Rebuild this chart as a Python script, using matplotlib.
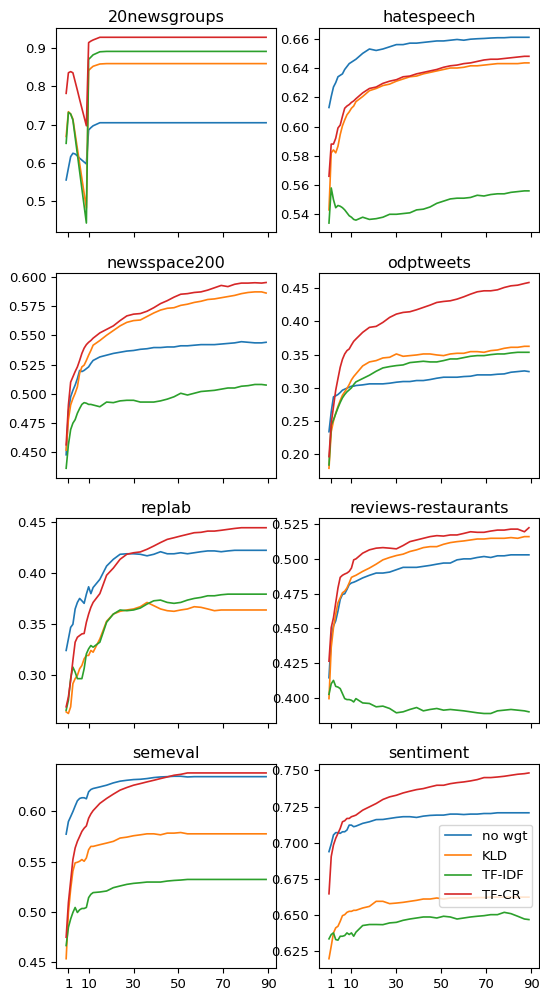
import matplotlib
matplotlib.use('Agg')
import matplotlib.pyplot as plt
from matplotlib.ticker import MultipleLocator

# x positions of the sampled points (dense at the start, then every 3 steps)
x = list(range(13)) + list(range(15, 88, 3)) + [89]

methods = ['no wgt', 'KLD', 'TF-IDF', 'TF-CR']
colors = ['#1f77b4', '#ff7f0e', '#2ca02c', '#d62728']
xtick_vals = [1, 10, 30, 50, 70, 90]

# 20newsgroups
ng_nowgt = [0.555, 0.586, 0.616, 0.625, 0.623, 0.618, 0.612, 0.607, 0.602, 0.597, 0.686, 0.692, 0.697] + [0.705] * 26
ng_kld = [0.669, 0.734, 0.728, 0.715, 0.676, 0.637, 0.598, 0.559, 0.520, 0.481, 0.842, 0.848, 0.853, 0.859] + [0.860] * 25
ng_tfidf = [0.651, 0.732, 0.728, 0.712, 0.667, 0.622, 0.577, 0.532, 0.487, 0.442, 0.871, 0.877, 0.883, 0.891] + [0.892] * 25
ng_tfcr = [0.782, 0.836, 0.839, 0.836, 0.813, 0.790, 0.766, 0.743, 0.720, 0.697, 0.915, 0.919, 0.922] + [0.929] * 26

# hatespeech
hs_nowgt = [0.613, 0.6205, 0.627, 0.630, 0.634, 0.635, 0.636, 0.639, 0.641, 0.643, 0.644, 0.645, 0.646,
            0.650, 0.653, 0.652, 0.653, 0.6545, 0.656, 0.656, 0.657, 0.657, 0.6575, 0.658, 0.6585, 0.6585,
            0.659, 0.6595, 0.659, 0.6597, 0.660, 0.6602, 0.6605, 0.6607, 0.6607, 0.661, 0.661, 0.661, 0.661]
hs_kld = [0.543, 0.582, 0.584, 0.582, 0.5865, 0.5945, 0.6005, 0.6045, 0.608, 0.610, 0.6125, 0.614, 0.617,
          0.6205, 0.6245, 0.626, 0.628, 0.629, 0.631, 0.6325, 0.634, 0.6345, 0.636, 0.637, 0.638, 0.639,
          0.640, 0.640, 0.6405, 0.6415, 0.6415, 0.642, 0.6425, 0.643, 0.643, 0.643, 0.643, 0.6435, 0.6435]
hs_tfidf = [0.534, 0.558, 0.550, 0.5445, 0.546, 0.5455, 0.5445, 0.543, 0.541, 0.539, 0.538, 0.5365, 0.536,
            0.538, 0.5365, 0.537, 0.538, 0.540, 0.540, 0.5405, 0.541, 0.543, 0.5435, 0.545, 0.5475, 0.549,
            0.5505, 0.551, 0.551, 0.5515, 0.553, 0.5525, 0.5535, 0.554, 0.554, 0.555, 0.5555, 0.556, 0.556]
hs_tfcr = [0.566, 0.588, 0.588, 0.592, 0.599, 0.601, 0.607, 0.6125, 0.614, 0.615, 0.6165, 0.6175, 0.619,
           0.623, 0.626, 0.627, 0.6295, 0.631, 0.632, 0.634, 0.6345, 0.636, 0.637, 0.638, 0.639, 0.6405,
           0.6415, 0.642, 0.643, 0.6435, 0.6445, 0.6455, 0.646, 0.646, 0.6465, 0.647, 0.6475, 0.648, 0.648]

# newsspace200
ns_nowgt = [0.448, 0.485, 0.4975, 0.503, 0.5075, 0.513, 0.520, 0.519, 0.520, 0.5215, 0.523, 0.526, 0.5285,
            0.5315, 0.533, 0.5345, 0.5355, 0.5365, 0.537, 0.538, 0.5385, 0.5395, 0.5395, 0.540, 0.540, 0.541,
            0.541, 0.5415, 0.542, 0.542, 0.542, 0.5425, 0.543, 0.5435, 0.5445, 0.544, 0.5435, 0.5435, 0.544]
ns_kld = [0.452, 0.478, 0.4905, 0.496, 0.5005, 0.506, 0.5175, 0.523, 0.5245, 0.5285, 0.533, 0.537, 0.5415,
          0.5455, 0.550, 0.554, 0.558, 0.561, 0.5625, 0.563, 0.566, 0.569, 0.5715, 0.573, 0.5735, 0.5755,
          0.5765, 0.578, 0.579, 0.5805, 0.581, 0.582, 0.583, 0.584, 0.5855, 0.5865, 0.587, 0.587, 0.586]
ns_tfidf = [0.4365, 0.4565, 0.4695, 0.475, 0.478, 0.4835, 0.4875, 0.491, 0.4925, 0.492, 0.491, 0.491, 0.4905,
            0.489, 0.493, 0.4925, 0.494, 0.4945, 0.4945, 0.493, 0.493, 0.493, 0.494, 0.4955, 0.4975, 0.5005,
            0.499, 0.5005, 0.502, 0.5025, 0.503, 0.504, 0.505, 0.505, 0.5065, 0.507, 0.508, 0.508, 0.5075]
ns_tfcr = [0.4565, 0.4905, 0.510, 0.5145, 0.519, 0.523, 0.5285, 0.5345, 0.539, 0.542, 0.544, 0.5455, 0.5475,
           0.552, 0.555, 0.558, 0.5625, 0.5665, 0.568, 0.5685, 0.5705, 0.5735, 0.577, 0.5795, 0.5825, 0.585,
           0.5855, 0.5865, 0.587, 0.5885, 0.5905, 0.5925, 0.5915, 0.5935, 0.5945, 0.5945, 0.5948, 0.5945, 0.595]

# odptweets
od_nowgt = [0.234, 0.264, 0.2865, 0.288, 0.290, 0.293, 0.2965, 0.298, 0.2995, 0.301, 0.3025, 0.3025, 0.3035,
            0.3045, 0.306, 0.306, 0.306, 0.307, 0.3085, 0.3095, 0.3095, 0.311, 0.311, 0.3125, 0.3145, 0.316,
            0.316, 0.316, 0.317, 0.3175, 0.3195, 0.3195, 0.3195, 0.3205, 0.321, 0.3235, 0.3245, 0.3255, 0.3245]
od_kld = [0.179, 0.234, 0.250, 0.262, 0.272, 0.281, 0.289, 0.294, 0.299, 0.305, 0.312, 0.317, 0.321,
          0.333, 0.339, 0.341, 0.345, 0.346, 0.351, 0.3475, 0.3485, 0.3495, 0.351, 0.351, 0.3495, 0.3485,
          0.351, 0.352, 0.352, 0.3545, 0.3545, 0.3535, 0.356, 0.357, 0.3595, 0.361, 0.361, 0.3625, 0.3625]
od_tfidf = [0.184, 0.244, 0.252, 0.261, 0.270, 0.278, 0.285, 0.290, 0.294, 0.297, 0.300, 0.305, 0.309,
            0.314, 0.319, 0.325, 0.330, 0.332, 0.3335, 0.3345, 0.338, 0.339, 0.340, 0.339, 0.339, 0.341,
            0.3435, 0.3435, 0.3455, 0.3475, 0.3485, 0.3485, 0.350, 0.351, 0.351, 0.3525, 0.3535, 0.3535, 0.3535]
od_tfcr = [0.1965, 0.2465, 0.2715, 0.2965, 0.314, 0.331, 0.343, 0.351, 0.356, 0.3585, 0.3645, 0.370, 0.3735,
           0.3835, 0.391, 0.3925, 0.3985, 0.406, 0.411, 0.4135, 0.4145, 0.4175, 0.421, 0.4245, 0.4285, 0.430,
           0.431, 0.4335, 0.437, 0.441, 0.4445, 0.446, 0.446, 0.4475, 0.451, 0.4535, 0.4545, 0.457, 0.4585]

# replab
rp_nowgt = [0.3244, 0.3357, 0.347, 0.350, 0.365, 0.3714, 0.3753, 0.373, 0.3705, 0.3795, 0.3867, 0.380, 0.386,
            0.394, 0.407, 0.4136, 0.4185, 0.419, 0.419, 0.4185, 0.417, 0.4185, 0.421, 0.419, 0.419, 0.420,
            0.419, 0.420, 0.421, 0.4218, 0.4218, 0.421, 0.4218, 0.4224, 0.4224, 0.4224, 0.4224, 0.4224, 0.4224]
rp_kld = [0.2643, 0.2627, 0.2692, 0.2919, 0.2968, 0.300, 0.3065, 0.3097, 0.3162, 0.3195, 0.3195, 0.3244, 0.3227,
          0.3357, 0.353, 0.360, 0.3627, 0.364, 0.365, 0.3672, 0.3714, 0.3682, 0.365, 0.3633, 0.3627, 0.364,
          0.365, 0.3672, 0.3666, 0.365, 0.3633, 0.364, 0.364, 0.364, 0.364, 0.364, 0.364, 0.364, 0.364]
rp_tfidf = [0.2659, 0.2757, 0.2968, 0.3081, 0.3032, 0.2968, 0.2968, 0.2968, 0.3065, 0.3211, 0.326, 0.3292, 0.3276,
            0.3325, 0.352, 0.360, 0.364, 0.3633, 0.364, 0.3659, 0.3698, 0.373, 0.3737, 0.3714, 0.3705, 0.3714,
            0.3737, 0.3753, 0.3763, 0.3779, 0.3779, 0.3789, 0.3795, 0.3795, 0.3795, 0.3795, 0.3795, 0.3795, 0.3795]
rp_tfcr = [0.2692, 0.2789, 0.2951, 0.3146, 0.3325, 0.3373, 0.339, 0.3406, 0.341, 0.352, 0.360, 0.3666, 0.3714,
           0.380, 0.398, 0.405, 0.4136, 0.4185, 0.420, 0.4208, 0.4234, 0.4266, 0.430, 0.4331, 0.4347, 0.4364,
           0.438, 0.4396, 0.440, 0.4412, 0.4412, 0.442, 0.4429, 0.4438, 0.4445, 0.4445, 0.4445, 0.4445, 0.4445]

# reviews-restaurants
rr_nowgt = [0.4145, 0.4435, 0.4518, 0.4554, 0.4625, 0.4708, 0.4744, 0.4749, 0.478, 0.4815, 0.4827, 0.4832, 0.4839,
            0.4863, 0.4882, 0.4898, 0.4898, 0.4905, 0.4922, 0.4939, 0.4939, 0.4939, 0.4946, 0.4953, 0.4962, 0.497,
            0.497, 0.4993, 0.500, 0.500, 0.501, 0.5017, 0.501, 0.5022, 0.5022, 0.5029, 0.5029, 0.5029, 0.5029]
rr_kld = [0.3995, 0.4364, 0.4506, 0.4601, 0.4684, 0.472, 0.4756, 0.4768, 0.4791, 0.4827, 0.4867, 0.4875, 0.4882,
          0.491, 0.4934, 0.4962, 0.4993, 0.501, 0.5024, 0.5034, 0.5053, 0.5065, 0.5081, 0.5088, 0.5088, 0.5105,
          0.5117, 0.5124, 0.5129, 0.5136, 0.5143, 0.5143, 0.5148, 0.5148, 0.5148, 0.5153, 0.5148, 0.516, 0.516]
rr_tfidf = [0.4026, 0.4102, 0.4126, 0.4083, 0.4078, 0.4067, 0.4031, 0.3995, 0.3988, 0.3988, 0.3983, 0.3971, 0.3995,
            0.3964, 0.396, 0.3936, 0.3941, 0.3924, 0.3893, 0.390, 0.3917, 0.3931, 0.3907, 0.3917, 0.3924, 0.3912,
            0.3917, 0.3912, 0.3907, 0.390, 0.3893, 0.3888, 0.3888, 0.3907, 0.3912, 0.3917, 0.3912, 0.3907, 0.390]
rr_tfcr = [0.4264, 0.4506, 0.4577, 0.4684, 0.4791, 0.4867, 0.4882, 0.4891, 0.4898, 0.491, 0.4934, 0.4993, 0.500,
           0.5041, 0.5065, 0.5077, 0.5081, 0.5077, 0.5072, 0.5096, 0.5124, 0.5136, 0.5148, 0.516, 0.5167, 0.5164,
           0.5172, 0.5172, 0.5183, 0.5195, 0.5191, 0.5191, 0.520, 0.5207, 0.5207, 0.5214, 0.5214, 0.5195, 0.5224]

# semeval
se_nowgt = [0.5773, 0.5898, 0.5947, 0.5997, 0.6053, 0.6105, 0.6128, 0.6135, 0.6135, 0.6125, 0.6194, 0.6217, 0.6227,
            0.6243, 0.626, 0.6283, 0.630, 0.6309, 0.6316, 0.6319, 0.6326, 0.6336, 0.6342, 0.6345, 0.6349, 0.6349,
            0.6342] + [0.6345] * 12
se_kld = [0.4533, 0.4993, 0.5224, 0.5405, 0.5487, 0.5493, 0.5503, 0.552, 0.5503, 0.5536, 0.5618, 0.5651, 0.5651,
          0.5668, 0.5684, 0.5701, 0.5734, 0.5743, 0.5757, 0.5766, 0.5776, 0.5776, 0.5766, 0.5783, 0.5783, 0.5789,
          0.5776] + [0.5776] * 12
se_tfidf = [0.4664, 0.4845, 0.4928, 0.4993, 0.5043, 0.4993, 0.502, 0.5033, 0.5033, 0.5043, 0.5141, 0.5174, 0.5191,
            0.5197, 0.5207, 0.524, 0.5257, 0.5273, 0.5283, 0.5289, 0.5296, 0.5296, 0.5296, 0.5306, 0.5312, 0.5316,
            0.5322] + [0.5322] * 12
se_tfcr = [0.4747, 0.5092, 0.5306, 0.552, 0.5635, 0.5701, 0.575, 0.580, 0.5832, 0.5855, 0.5931, 0.5974, 0.6007,
           0.6079, 0.6128, 0.6171, 0.6211, 0.6237, 0.626, 0.6276, 0.6293, 0.6309, 0.6326, 0.6342, 0.6359, 0.6368,
           0.6382] + [0.6382] * 12

# sentiment
st_nowgt = [0.6939, 0.6992, 0.7054, 0.707, 0.707, 0.7065, 0.7076, 0.7076, 0.7088, 0.7122, 0.7122, 0.7111, 0.7115,
            0.7134, 0.7145, 0.716, 0.7161, 0.7168, 0.7175, 0.718, 0.718, 0.7175, 0.7184, 0.7189, 0.7191, 0.7191,
            0.7198, 0.7198, 0.7195, 0.7198, 0.7198, 0.7202, 0.7202, 0.7207, 0.7207, 0.7207, 0.7207, 0.7207, 0.7207]
st_kld = [0.620, 0.6287, 0.6378, 0.6413, 0.6424, 0.6458, 0.6497, 0.6504, 0.652, 0.6527, 0.6527, 0.6534, 0.6534,
          0.655, 0.6561, 0.6596, 0.6596, 0.658, 0.6584, 0.6589, 0.6596, 0.6603, 0.6612, 0.6612, 0.6619, 0.6612,
          0.6619, 0.6619, 0.662, 0.662, 0.6622, 0.6622, 0.6625, 0.6625, 0.6625, 0.6625, 0.6625, 0.6625, 0.6625]
st_tfidf = [0.6337, 0.6367, 0.6378, 0.6332, 0.6328, 0.6355, 0.6355, 0.636, 0.6378, 0.6367, 0.6378, 0.6355, 0.6383,
            0.6429, 0.6436, 0.6436, 0.6435, 0.6447, 0.6451, 0.6465, 0.6474, 0.6481, 0.6488, 0.6488, 0.6481, 0.6493,
            0.6488, 0.6474, 0.6481, 0.6488, 0.6493, 0.6497, 0.6504, 0.6504, 0.652, 0.6511, 0.6493, 0.6474, 0.647]
st_tfcr = [0.6648, 0.6905, 0.6985, 0.7031, 0.7065, 0.7099, 0.7145, 0.7152, 0.7168, 0.7168, 0.718, 0.7185, 0.7191,
           0.7225, 0.7248, 0.7271, 0.7299, 0.7317, 0.7328, 0.7344, 0.7356, 0.7367, 0.7374, 0.7386, 0.7397, 0.7397,
           0.7408, 0.7415, 0.742, 0.7427, 0.7436, 0.745, 0.745, 0.7454, 0.7459, 0.7466, 0.7473, 0.7477, 0.7482]

datasets = ['20newsgroups', 'hatespeech', 'newsspace200', 'odptweets',
            'replab', 'reviews-restaurants', 'semeval', 'sentiment']
ytick_steps = [0.1, 0.02, 0.025, 0.05, 0.05, 0.025, 0.05, 0.025]
results = [
    [ng_nowgt, ng_kld, ng_tfidf, ng_tfcr],
    [hs_nowgt, hs_kld, hs_tfidf, hs_tfcr],
    [ns_nowgt, ns_kld, ns_tfidf, ns_tfcr],
    [od_nowgt, od_kld, od_tfidf, od_tfcr],
    [rp_nowgt, rp_kld, rp_tfidf, rp_tfcr],
    [rr_nowgt, rr_kld, rr_tfidf, rr_tfcr],
    [se_nowgt, se_kld, se_tfidf, se_tfcr],
    [st_nowgt, st_kld, st_tfidf, st_tfcr],
]

fig, axes = plt.subplots(4, 2, figsize=(5.4, 9.91), dpi=100, sharex=True)
fig.subplots_adjust(left=0.104, right=0.998, top=1 - 28 / 991, bottom=1 - 968 / 991,
                    wspace=0.195, hspace=0.20)

for ax, name, series, step in zip(axes.flat, datasets, results, ytick_steps):
    for values, label, color in zip(series, methods, colors):
        ax.plot(x, values, color=color, linewidth=1.2, label=label)
    ax.set_title(name, fontsize=11.5, pad=4)
    ax.set_xticks(xtick_vals)
    ax.yaxis.set_major_locator(MultipleLocator(step))
    ax.tick_params(labelsize=9.5)

axes[3, 1].legend(loc='center right', fontsize=9.5)

fig.savefig('out.png', dpi=100)
